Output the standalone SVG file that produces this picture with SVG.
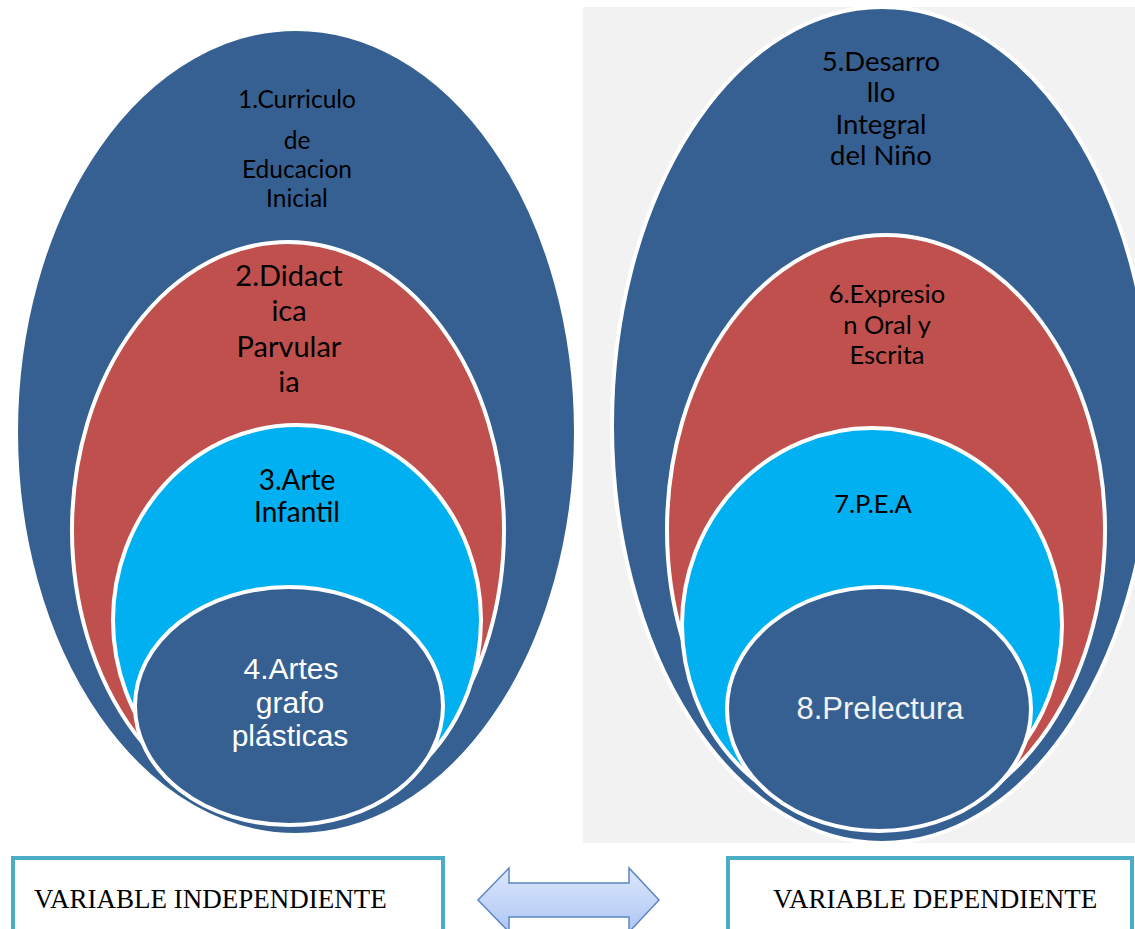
<svg xmlns="http://www.w3.org/2000/svg" width="1135" height="929" viewBox="0 0 1135 929">
<defs>
<linearGradient id="arrowGrad" x1="0" y1="0" x2="0" y2="1">
<stop offset="0" stop-color="#dde7fb"/>
<stop offset="1" stop-color="#aec6f3"/>
</linearGradient>
</defs>
<style>
.blue{fill:#376092;stroke:#ffffff;stroke-width:4}
.red{fill:#c0504d;stroke:#ffffff;stroke-width:4}
.cyan{fill:#00b0f0;stroke:#ffffff;stroke-width:4}
.lbl{font-family:Lato,"Open Sans",sans-serif;fill:#000000;text-anchor:middle}
.lblw{font-family:"Liberation Sans",Arial,sans-serif;text-anchor:middle}
.box{fill:#ffffff;stroke:#4bacc6;stroke-width:4}
.boxt{font-family:"Liberation Serif","Times New Roman",serif;font-size:27px;fill:#000000}
</style>
<rect x="583" y="7" width="552" height="836" fill="#f2f2f2"/>
<g id="node1">
<ellipse class="blue" cx="296" cy="432" rx="280" ry="403"/>
<text class="lbl" font-size="24.5"><tspan x="297" y="108">1.Curriculo</tspan><tspan x="297" y="149">de</tspan><tspan x="297" y="178">Educacion</tspan><tspan x="297" y="207">Inicial</tspan></text>
</g>
<g id="node2">
<ellipse class="red" cx="288" cy="530" rx="216" ry="288"/>
<text class="lbl" font-size="29"><tspan x="289" y="286">2.Didact</tspan><tspan x="289" y="321">ica</tspan><tspan x="289" y="357">Parvular</tspan><tspan x="289" y="392">ia</tspan></text>
</g>
<g id="node3">
<ellipse class="cyan" cx="297" cy="620" rx="184" ry="195"/>
<text class="lbl" font-size="28"><tspan x="297" y="490">3.Arte</tspan><tspan x="297" y="522">Infantil</tspan></text>
</g>
<g id="node4">
<ellipse class="blue" cx="289" cy="706" rx="154" ry="119"/>
<text class="lblw" font-size="30" fill="#ffffff"><tspan x="291" y="679">4.Artes</tspan><tspan x="290" y="713">grafo</tspan><tspan x="290" y="746">plásticas</tspan></text>
</g>
<g id="node5">
<ellipse class="blue" cx="882" cy="425" rx="270" ry="418"/>
<text class="lbl" font-size="27.5"><tspan x="881" y="71">5.Desarro</tspan><tspan x="881" y="102">llo</tspan><tspan x="881" y="134">Integral</tspan><tspan x="881" y="165">del Niño</tspan></text>
</g>
<g id="node6">
<ellipse class="red" cx="886" cy="530" rx="219" ry="295"/>
<text class="lbl" font-size="25.5"><tspan x="887" y="303">6.Expresio</tspan><tspan x="887" y="334">n Oral y</tspan><tspan x="887" y="364">Escrita</tspan></text>
</g>
<g id="node7">
<ellipse class="cyan" cx="872" cy="625" rx="190" ry="197"/>
<text class="lbl" font-size="25.5" x="873" y="513">7.P.E.A</text>
</g>
<g id="node8">
<ellipse class="blue" cx="879" cy="709" rx="152" ry="122"/>
<text class="lblw" font-size="31" fill="#f2f2f2" x="880" y="719">8.Prelectura</text>
</g>
<g id="boxIndep">
<rect class="box" x="13" y="858" width="430" height="80"/>
<text class="boxt" x="34" y="908">VARIABLE INDEPENDIENTE</text>
</g>
<g id="boxDep">
<rect class="box" x="728" y="858" width="404" height="80"/>
<text class="boxt" x="773" y="908">VARIABLE DEPENDIENTE</text>
</g>
<g id="connectors">
<path d="M478,900 L509,868 L509,883 L629,883 L629,868 L659,900 L629,932 L629,917 L509,917 L509,932 Z" fill="url(#arrowGrad)" stroke="#5b86c5" stroke-width="1.5"/>
</g>
</svg>
